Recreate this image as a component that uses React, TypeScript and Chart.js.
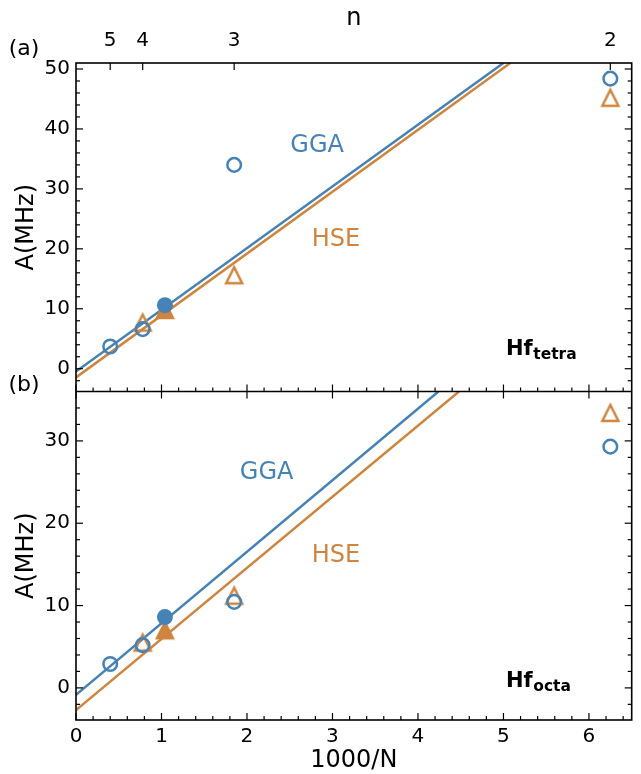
import React, { useEffect, useRef } from 'react';
import { Chart, registerables } from 'chart.js';

Chart.register(...registerables);

const FONT = "'DejaVu Sans', sans-serif";
const BLUE = '#4682b4';
const ORANGE = '#cd853f';

// ---- axes ----
const xTickValues = [0, 1, 2, 3, 4, 5, 6];
const nTickLabels = ['5', '4', '3', '2'];
const nTickValues = [0.4, 0.78, 1.85, 6.25];
const yTopTickValues = [0, 10, 20, 30, 40, 50];
const yBotTickValues = [0, 10, 20, 30];

// ---- panel (a): Hf tetra ----
const tetraGgaOpenX = [0.4, 0.78, 1.85, 6.25];
const tetraGgaOpenY = [3.7, 6.6, 34.0, 48.4];
const tetraGgaFilledX = [1.04];
const tetraGgaFilledY = [10.6];
const tetraHseOpenX = [0.78, 1.85, 6.25];
const tetraHseOpenY = [7.7, 15.6, 45.2];
const tetraHseFilledX = [1.04];
const tetraHseFilledY = [9.8];
const tetraGgaFitX = [0, 5.0];
const tetraGgaFitY = [-0.45, 51];
const tetraHseFitX = [0, 5.08];
const tetraHseFitY = [-1.45, 51];

// ---- panel (b): Hf octa ----
const octaGgaOpenX = [0.4, 0.78, 1.85, 6.25];
const octaGgaOpenY = [2.9, 5.2, 10.45, 29.3];
const octaGgaFilledX = [1.04];
const octaGgaFilledY = [8.6];
const octaHseOpenX = [0.78, 1.85, 6.25];
const octaHseOpenY = [5.5, 11.2, 33.4];
const octaHseFilledX = [1.04];
const octaHseFilledY = [7.0];
const octaGgaFitX = [0, 4.24];
const octaGgaFitY = [-0.85, 36];
const octaHseFitX = [0, 4.48];
const octaHseFitY = [-2.7, 36];

// ---- text annotations ----
const fitLabelText = ['GGA', 'HSE', 'GGA', 'HSE'];
const fitLabelColor = [BLUE, ORANGE, BLUE, ORANGE];
const fitLabelAxis = ['yTop', 'yTop', 'yBot', 'yBot'];
const fitLabelX = [2.82, 3.04, 2.23, 3.04];
const fitLabelY = [37.2, 21.5, 26.1, 16.0];

const hfLabelSub = ['tetra', 'octa'];
const hfLabelAxis = ['yTop', 'yBot'];
const hfLabelX = [5.03, 5.03];
const hfLabelY = [2.3, 0.1];

const pts = (xs: number[], ys: number[]) => xs.map((x, i) => ({ x, y: ys[i] }));

function makeTriangle(color: string, filled: boolean) {
  const c = document.createElement('canvas');
  c.width = 24;
  c.height = 24;
  const g = c.getContext('2d')!;
  g.beginPath();
  g.moveTo(12, 4);
  g.lineTo(4, 20);
  g.lineTo(20, 20);
  g.closePath();
  g.lineJoin = 'miter';
  g.lineWidth = 2.5;
  g.strokeStyle = color;
  if (filled) {
    g.fillStyle = color;
    g.fill();
  }
  g.stroke();
  return c;
}

const framePlugin = {
  id: 'frameTicks',
  afterDraw(chart: any) {
    const { ctx, chartArea: ca, scales } = chart;
    const sx = scales.x;
    const yT = scales.yTop;
    const yB = scales.yBot;
    const mid = yT.bottom;
    const seg = (x1: number, y1: number, x2: number, y2: number) => {
      ctx.beginPath();
      ctx.moveTo(x1, y1);
      ctx.lineTo(x2, y2);
      ctx.stroke();
    };
    ctx.save();
    ctx.strokeStyle = '#000';
    ctx.lineCap = 'butt';
    ctx.lineWidth = 1.2;
    const MAJ = 7;
    const MIN = 4;
    for (let i = 0; i <= 32; i++) {
      const v = i / 5;
      const px = sx.getPixelForValue(v);
      const major = i % 5 === 0;
      const len = major ? MAJ : MIN;
      seg(px, ca.bottom, px, ca.bottom - len);
      seg(px, mid, px, mid - len);
      if (major) seg(px, mid, px, mid + len);
    }
    nTickValues.forEach((v) => {
      const px = sx.getPixelForValue(v);
      seg(px, ca.top, px, ca.top + MAJ);
    });
    const yTicks = (scale: any, majors: number[], lo: number, hi: number) => {
      for (let v = lo; v <= hi; v += 2) {
        const py = scale.getPixelForValue(v);
        const len = majors.includes(v) ? MAJ : MIN;
        seg(ca.left, py, ca.left + len, py);
        seg(ca.right, py, ca.right - len, py);
      }
    };
    yTicks(yT, yTopTickValues, -2, 50);
    yTicks(yB, yBotTickValues, -2, 34);

    ctx.lineWidth = 1.6;
    ctx.strokeRect(ca.left, ca.top, ca.right - ca.left, ca.bottom - ca.top);
    seg(ca.left, mid, ca.right, mid);

    // fit labels
    ctx.textAlign = 'center';
    ctx.textBaseline = 'middle';
    ctx.font = `24px ${FONT}`;
    fitLabelText.forEach((t, i) => {
      ctx.fillStyle = fitLabelColor[i];
      ctx.fillText(t, sx.getPixelForValue(fitLabelX[i]), scales[fitLabelAxis[i]].getPixelForValue(fitLabelY[i]));
    });

    // Hf labels
    ctx.fillStyle = '#000';
    ctx.textAlign = 'left';
    ctx.textBaseline = 'alphabetic';
    hfLabelSub.forEach((sub, i) => {
      const px = sx.getPixelForValue(hfLabelX[i]);
      const py = scales[hfLabelAxis[i]].getPixelForValue(hfLabelY[i]);
      ctx.font = `bold 21px ${FONT}`;
      ctx.fillText('Hf', px, py);
      const w = ctx.measureText('Hf').width;
      ctx.font = `bold 15.5px ${FONT}`;
      ctx.fillText(sub, px + w + 0.5, py + 4);
    });

    // panel letters
    ctx.font = `22px ${FONT}`;
    ctx.textAlign = 'center';
    ctx.textBaseline = 'middle';
    ctx.fillText('(a)', 24, 49);
    ctx.fillText('(b)', 24, 385);
    ctx.restore();
  },
};

export default function App() {
  const ref = useRef<HTMLCanvasElement>(null);
  useEffect(() => {
    const triOpen = makeTriangle(ORANGE, false);
    const triFilled = makeTriangle(ORANGE, true);
    const tickFont = { family: FONT, size: 20 };
    const titleFont = { family: FONT, size: 24 };

    const circleOpen = (data: any, yAxisID: string) => ({
      data, yAxisID, xAxisID: 'x', showLine: false,
      pointStyle: 'circle', pointRadius: 6.8, borderWidth: 2.5,
      borderColor: BLUE, backgroundColor: 'rgba(0,0,0,0)',
      pointHoverRadius: 6.8,
    });
    const circleFilled = (data: any, yAxisID: string) => ({
      data, yAxisID, xAxisID: 'x', showLine: false,
      pointStyle: 'circle', pointRadius: 8, borderWidth: 0,
      borderColor: BLUE, backgroundColor: BLUE,
    });
    const tri = (data: any, yAxisID: string, img: HTMLCanvasElement) => ({
      data, yAxisID, xAxisID: 'x', showLine: false,
      pointStyle: img, pointRadius: 8, borderWidth: 0,
      borderColor: ORANGE, backgroundColor: ORANGE,
    });
    const fit = (data: any, yAxisID: string, color: string) => ({
      data, yAxisID, xAxisID: 'x', showLine: true,
      pointRadius: 0, borderWidth: 2.5, borderColor: color,
      backgroundColor: color, fill: false,
    });

    const chart = new Chart(ref.current!, {
      type: 'scatter',
      data: {
        datasets: [
          circleFilled(pts(tetraGgaFilledX, tetraGgaFilledY), 'yTop'),
          circleOpen(pts(tetraGgaOpenX, tetraGgaOpenY), 'yTop'),
          tri(pts(tetraHseFilledX, tetraHseFilledY), 'yTop', triFilled),
          tri(pts(tetraHseOpenX, tetraHseOpenY), 'yTop', triOpen),
          circleFilled(pts(octaGgaFilledX, octaGgaFilledY), 'yBot'),
          circleOpen(pts(octaGgaOpenX, octaGgaOpenY), 'yBot'),
          tri(pts(octaHseFilledX, octaHseFilledY), 'yBot', triFilled),
          tri(pts(octaHseOpenX, octaHseOpenY), 'yBot', triOpen),
          fit(pts(tetraGgaFitX, tetraGgaFitY), 'yTop', BLUE),
          fit(pts(tetraHseFitX, tetraHseFitY), 'yTop', ORANGE),
          fit(pts(octaGgaFitX, octaGgaFitY), 'yBot', BLUE),
          fit(pts(octaHseFitX, octaHseFitY), 'yBot', ORANGE),
        ] as any,
      },
      options: {
        animation: false,
        responsive: false,
        devicePixelRatio: 1,
        layout: { padding: { left: 0, right: 7, top: 0, bottom: 0 } },
        plugins: { legend: { display: false }, tooltip: { enabled: false } },
        scales: {
          x: {
            type: 'linear', position: 'bottom', min: 0, max: 6.5,
            afterBuildTicks: (s: any) => { s.ticks = xTickValues.map((v) => ({ value: v })); },
            afterFit: (s: any) => { s.height = 54; },
            grid: { display: false, drawTicks: false },
            border: { display: false },
            ticks: { font: tickFont, color: '#000', padding: 5, maxRotation: 0, autoSkip: false, callback: (v: any) => String(v) },
            title: { display: true, text: '1000/N', font: titleFont, color: '#000', padding: { top: 0, bottom: -1 } },
          },
          xTop: {
            type: 'linear', position: 'top', min: 0, max: 6.5,
            afterBuildTicks: (s: any) => { s.ticks = nTickValues.map((v) => ({ value: v })); },
            afterFit: (s: any) => { s.height = 63; },
            grid: { display: false, drawTicks: false },
            border: { display: false },
            ticks: { font: tickFont, color: '#000', padding: 10, maxRotation: 0, autoSkip: false, callback: (_v: any, i: number) => nTickLabels[i] },
            title: { display: true, text: 'n', font: titleFont, color: '#000', padding: { top: 4, bottom: 0 } },
          },
          yBot: {
            type: 'linear', position: 'left', stack: 'panels', stackWeight: 1, min: -3.9, max: 36,
            afterBuildTicks: (s: any) => { s.ticks = yBotTickValues.map((v) => ({ value: v })); },
            afterFit: (s: any) => { s.width = 76; },
            grid: { display: false, drawTicks: false },
            border: { display: false },
            ticks: { font: tickFont, color: '#000', padding: 6, autoSkip: false },
            title: { display: true, text: 'A(MHz)', font: titleFont, color: '#000', padding: { top: 12, bottom: 0 } },
          },
          yTop: {
            type: 'linear', position: 'left', stack: 'panels', stackWeight: 1, min: -3.8, max: 51,
            afterBuildTicks: (s: any) => { s.ticks = yTopTickValues.map((v) => ({ value: v })); },
            afterFit: (s: any) => { s.width = 76; },
            grid: { display: false, drawTicks: false },
            border: { display: false },
            ticks: { font: tickFont, color: '#000', padding: 6, autoSkip: false },
            title: { display: true, text: 'A(MHz)', font: titleFont, color: '#000', padding: { top: 12, bottom: 0 } },
          },
        } as any,
      },
      plugins: [framePlugin],
    });
    return () => chart.destroy();
  }, []);

  return (
    <div style={{ position: 'absolute', left: 0, top: 0, width: 641, height: 774, background: '#fff' }}>
      <canvas ref={ref} width={641} height={774} style={{ display: 'block', width: 641, height: 774 }} />
    </div>
  );
}
